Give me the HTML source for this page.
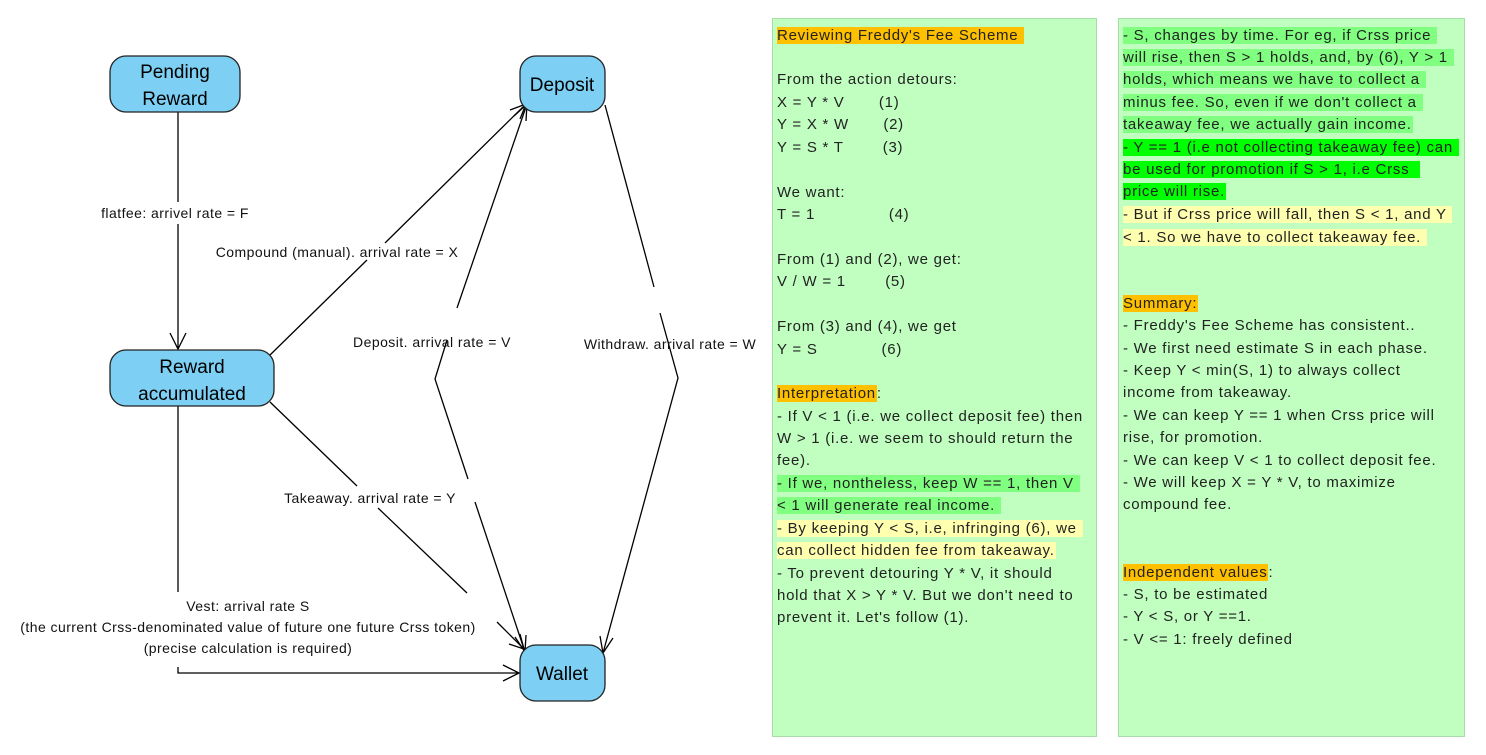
<!DOCTYPE html>
<html><head><meta charset="utf-8"><style>
body{margin:0;width:1486px;height:755px;background:#fff;position:relative;overflow:hidden;font-family:"Liberation Sans",Arial,sans-serif}
.panel{position:absolute;background:#c0ffc0;border:1px solid #a8dca8;box-sizing:border-box}
.l{position:absolute;font-size:15px;color:#222;white-space:pre;letter-spacing:0.75px;line-height:21px}
.l span{padding:0 1px 0 0}
.o{background:#ffc000}.g{background:#80ff80}.G{background:#00ff00}.y{background:#ffffb0}
</style></head><body>
<svg width="1486" height="755" style="position:absolute;left:0;top:0" font-family="Liberation Sans, Arial, sans-serif">
<g stroke="#000" stroke-width="1.3" fill="none">
<line x1="178" y1="112" x2="178" y2="202"/><line x1="178" y1="224" x2="178" y2="349"/>
<polyline points="170,333 178,349 186,333"/>
<line x1="270" y1="355" x2="367" y2="260"/><line x1="385" y1="243" x2="526" y2="104"/>
<polyline points="510,110 526,104 520,119"/>
<polyline points="447,340 435,379 468,479"/><line x1="457" y1="308" x2="527" y2="104"/>
<polyline points="514,116 527,104 526,121"/>
<line x1="475" y1="502" x2="525" y2="652"/>
<polyline points="515,637 525,652 526,635"/>
<line x1="605" y1="105" x2="654" y2="287"/>
<polyline points="660,313 678,378 603,653"/>
<polyline points="600,636 603,653 613,638"/>
<line x1="270" y1="402" x2="357" y2="486"/><line x1="378" y1="508" x2="467" y2="593"/>
<line x1="497" y1="622" x2="524" y2="649"/>
<polyline points="509,644 524,649 520,634"/>
<line x1="178" y1="406" x2="178" y2="592"/>
<polyline points="178,667 178,673 519,673"/>
<polyline points="503,665 519,673 503,681"/>
</g>
<g fill="#7dcff3" stroke="#222" stroke-width="1.3">
<rect x="110" y="56" width="130" height="56" rx="16"/>
<rect x="520" y="56" width="85" height="56" rx="16"/>
<rect x="110" y="350" width="164" height="56" rx="16"/>
<rect x="520" y="645" width="85" height="56" rx="16"/>
</g>
<g font-size="19" text-anchor="middle" fill="#000">
<text x="175" y="78">Pending</text><text x="175" y="105">Reward</text>
<text x="562" y="91">Deposit</text>
<text x="192" y="373">Reward</text><text x="192" y="400">accumulated</text>
<text x="562" y="680">Wallet</text>
</g>
<g font-size="14" fill="#111" text-anchor="middle" letter-spacing="0.45">
<text x="175" y="218">flatfee: arrivel rate = F</text>
<text x="337" y="257">Compound (manual). arrival rate = X</text>
<text x="432" y="347">Deposit. arrival rate = V</text>
<text x="670" y="349">Withdraw. arrival rate = W</text>
<text x="370" y="503">Takeaway. arrival rate = Y</text>
<text x="248" y="611">Vest: arrival rate S</text>
<text x="248" y="632">(the current Crss-denominated value of future one future Crss token)</text>
<text x="248" y="653">(precise calculation is required)</text>
</g>
</svg>
<div class="panel" style="left:772px;top:18px;width:325px;height:719px"></div>
<div class="panel" style="left:1118px;top:18px;width:347px;height:719px"></div>

<div class="l" style="left:777px;top:25px"><span class="o">Reviewing Freddy's Fee Scheme </span></div>
<div class="l" style="left:777px;top:69px">From the action detours:</div>
<div class="l" style="left:777px;top:92px">X = Y * V       (1)</div>
<div class="l" style="left:777px;top:114px">Y = X * W       (2)</div>
<div class="l" style="left:777px;top:137px">Y = S * T        (3)</div>
<div class="l" style="left:777px;top:182px">We want:</div>
<div class="l" style="left:777px;top:204px">T = 1               (4)</div>
<div class="l" style="left:777px;top:249px">From (1) and (2), we get:</div>
<div class="l" style="left:777px;top:271px">V / W = 1        (5)</div>
<div class="l" style="left:777px;top:316px">From (3) and (4), we get</div>
<div class="l" style="left:777px;top:339px">Y = S             (6)</div>
<div class="l" style="left:777px;top:383px"><span class="o">Interpretation</span>:</div>
<div class="l" style="left:777px;top:406px">- If V &lt; 1 (i.e. we collect deposit fee) then</div>
<div class="l" style="left:777px;top:428px">W &gt; 1 (i.e. we seem to should return the</div>
<div class="l" style="left:777px;top:450px">fee).</div>
<div class="l" style="left:777px;top:473px"><span class="g">- If we, nontheless, keep W == 1, then V </span></div>
<div class="l" style="left:777px;top:495px"><span class="g">&lt; 1 will generate real income. </span></div>
<div class="l" style="left:777px;top:518px"><span class="y">- By keeping Y &lt; S, i.e, infringing (6), we </span></div>
<div class="l" style="left:777px;top:540px"><span class="y">can collect hidden fee from takeaway.</span></div>
<div class="l" style="left:777px;top:563px">- To prevent detouring Y * V, it should</div>
<div class="l" style="left:777px;top:585px">hold that X &gt; Y * V. But we don't need to</div>
<div class="l" style="left:777px;top:607px">prevent it. Let's follow (1).</div>

<div class="l" style="left:1123px;top:25px"><span class="g">- S, changes by time. For eg, if Crss price </span></div>
<div class="l" style="left:1123px;top:47px"><span class="g">will rise, then S &gt; 1 holds, and, by (6), Y &gt; 1 </span></div>
<div class="l" style="left:1123px;top:69px"><span class="g">holds, which means we have to collect a </span></div>
<div class="l" style="left:1123px;top:92px"><span class="g">minus fee. So, even if we don't collect a </span></div>
<div class="l" style="left:1123px;top:114px"><span class="g">takeaway fee, we actually gain income.</span></div>
<div class="l" style="left:1123px;top:137px"><span class="G">- Y == 1 (i.e not collecting takeaway fee) can </span></div>
<div class="l" style="left:1123px;top:159px"><span class="G">be used for promotion if S &gt; 1, i.e Crss  </span></div>
<div class="l" style="left:1123px;top:181px"><span class="G">price will rise.</span></div>
<div class="l" style="left:1123px;top:204px"><span class="y">- But if Crss price will fall, then S &lt; 1, and Y </span></div>
<div class="l" style="left:1123px;top:227px"><span class="y">&lt; 1. So we have to collect takeaway fee. </span></div>
<div class="l" style="left:1123px;top:293px"><span class="o">Summary:</span></div>
<div class="l" style="left:1123px;top:315px">- Freddy's Fee Scheme has consistent..</div>
<div class="l" style="left:1123px;top:338px">- We first need estimate S in each phase.</div>
<div class="l" style="left:1123px;top:360px">- Keep Y &lt; min(S, 1) to always collect</div>
<div class="l" style="left:1123px;top:382px">income from takeaway.</div>
<div class="l" style="left:1123px;top:405px">- We can keep Y == 1 when Crss price will</div>
<div class="l" style="left:1123px;top:427px">rise, for promotion.</div>
<div class="l" style="left:1123px;top:450px">- We can keep V &lt; 1 to collect deposit fee.</div>
<div class="l" style="left:1123px;top:472px">- We will keep X = Y * V, to maximize</div>
<div class="l" style="left:1123px;top:494px">compound fee.</div>
<div class="l" style="left:1123px;top:562px"><span class="o">Independent values</span>:</div>
<div class="l" style="left:1123px;top:584px">- S, to be estimated</div>
<div class="l" style="left:1123px;top:606px">- Y &lt; S, or Y ==1.</div>
<div class="l" style="left:1123px;top:629px">- V &lt;= 1: freely defined</div>
</body></html>
